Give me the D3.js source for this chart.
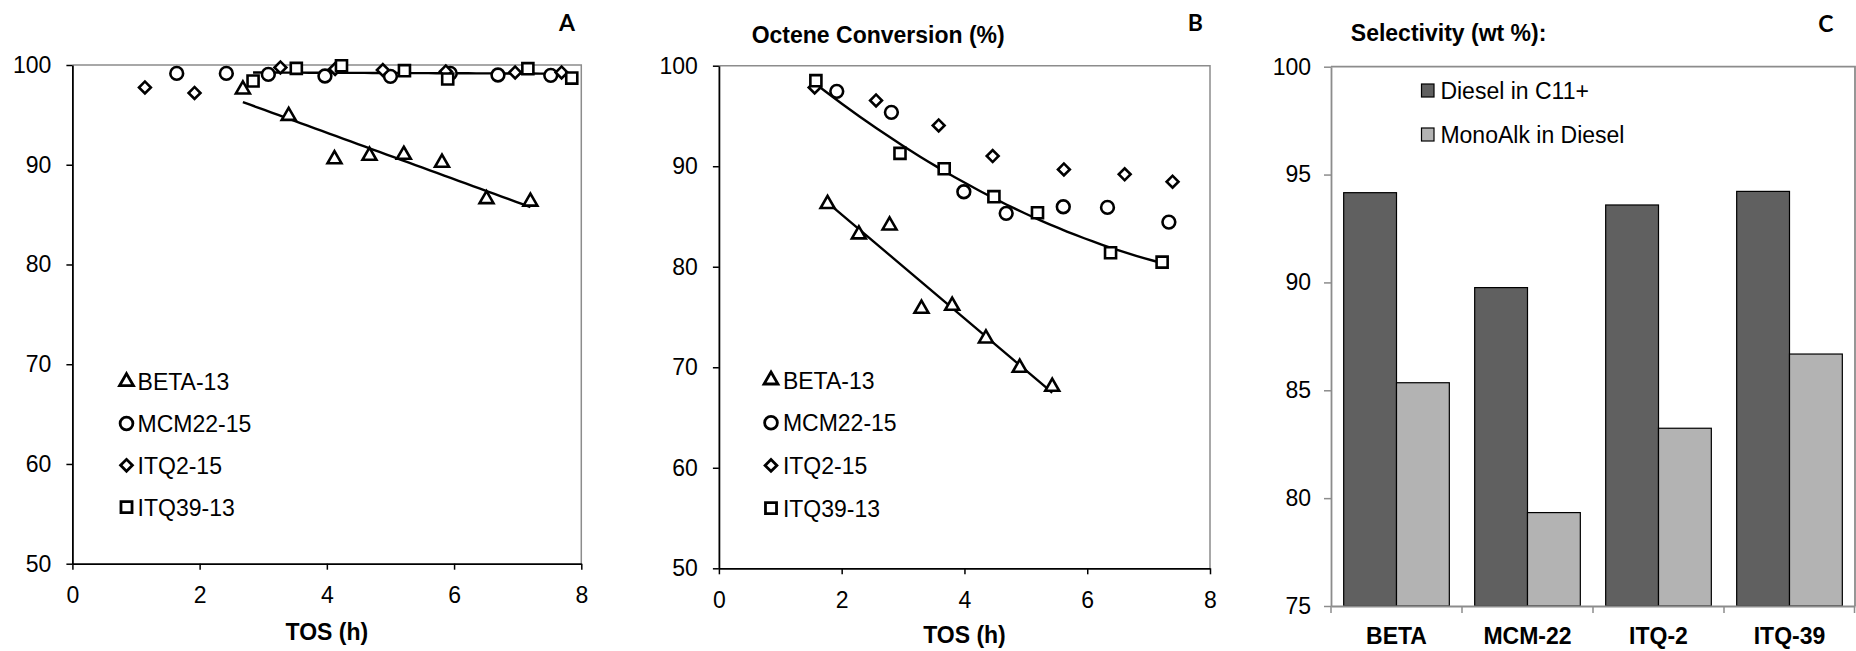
<!DOCTYPE html>
<html>
<head>
<meta charset="utf-8">
<script src="https://cdn.jsdelivr.net/npm/d3@7"></script>
<style>
  body { margin: 0; background: #fff; }
  svg text { font-family: "Liberation Sans", Arial, sans-serif; fill: #000; }
  .axis text { font-size: 23px; }
  .ttl { font-size: 23px; font-weight: bold; }
  .tag { font-family: Lato, "Open Sans", sans-serif; font-weight: 700; font-size: 23px; }
  .leg { font-size: 23px; }
</style>
</head>
<body>
<div id="chart"></div>
<script>
// values, [TOS (h), conversion %]
var tosTicks = [0, 2, 4, 6, 8];
var convTicks = [50, 60, 70, 80, 90, 100];

// panel A
var aBeta = [[2.68, 97.55], [3.40, 94.90], [4.12, 90.55], [4.67, 90.90], [5.21, 91.00], [5.81, 90.20], [6.51, 86.55], [7.20, 86.30]];
var aMcm22 = [[1.64, 99.16], [2.42, 99.16], [3.08, 99.06], [3.97, 98.90], [5.00, 98.86], [5.94, 99.16], [6.69, 99.00], [7.52, 98.96]];
var aItq2 = [[1.14, 97.75], [1.92, 97.20], [3.27, 99.76], [4.13, 99.60], [4.88, 99.50], [5.87, 99.36], [6.96, 99.26], [7.69, 99.26]];
var aItq39 = [[2.84, 98.40], [3.52, 99.66], [4.23, 99.93], [5.22, 99.43], [5.90, 98.60], [7.16, 99.63], [7.85, 98.69]];

// panel B - octene conversion
var bBeta = [[1.77, 86.24], [2.28, 83.22], [2.78, 84.11], [3.30, 75.82], [3.80, 76.12], [4.35, 72.87], [4.90, 69.95], [5.43, 68.06]];
var bMcm22 = [[1.92, 97.45], [2.81, 95.36], [3.99, 87.46], [4.68, 85.31], [5.61, 85.97], [6.33, 85.90], [7.33, 84.44]];
var bItq2 = [[1.56, 97.84], [2.56, 96.55], [3.58, 94.06], [4.46, 91.01], [5.62, 89.68], [6.61, 89.19], [7.39, 88.46]];
var bItq39 = [[1.58, 98.51], [2.95, 91.28], [3.67, 89.75], [4.48, 86.97], [5.19, 85.37], [6.38, 81.39], [7.22, 80.46]];

var seriesNames = ['BETA-13', 'MCM22-15', 'ITQ2-15', 'ITQ39-13'];

// panel C - selectivity (wt %)
var catalysts = ['BETA', 'MCM-22', 'ITQ-2', 'ITQ-39'];
var selKeys = ['Diesel in C11+', 'MonoAlk in Diesel'];
var dieselInC11 = [94.16, 89.76, 93.59, 94.22];
var monoAlkInDiesel = [85.35, 79.33, 83.24, 86.68];
var selTicks = [75, 80, 85, 90, 95, 100];

var W = 1856, H = 651;
var svg = d3.select('#chart').append('svg').attr('width', W).attr('height', H);

var grey = '#8c8c8c';

var markers = {
  tri: d3.symbol().type(d3.symbolTriangle).size(84)(),
  circ: d3.symbol().type(d3.symbolCircle).size(128)(),
  dia: d3.symbol().type(d3.symbolSquare).size(70)(),
  sq: d3.symbol().type(d3.symbolSquare).size(122)()
};
var shapeOrder = ['tri', 'circ', 'dia', 'sq'];

// least squares polynomial fit, returns coefficients c0..cn
function polyFit(pts, deg) {
  var n = deg + 1, A = [], b = [];
  for (var i = 0; i < n; i++) {
    A.push([]);
    for (var j = 0; j < n; j++) A[i].push(d3.sum(pts, function(p) { return Math.pow(p[0], i + j); }));
    b.push(d3.sum(pts, function(p) { return p[1] * Math.pow(p[0], i); }));
  }
  for (var k = 0; k < n; k++) {
    for (var r = k + 1; r < n; r++) {
      var f = A[r][k] / A[k][k];
      for (var c = k; c < n; c++) A[r][c] -= f * A[k][c];
      b[r] -= f * b[k];
    }
  }
  var x = new Array(n);
  for (var k2 = n - 1; k2 >= 0; k2--) {
    var s = b[k2];
    for (var c2 = k2 + 1; c2 < n; c2++) s -= A[k2][c2] * x[c2];
    x[k2] = s / A[k2][k2];
  }
  return x;
}

function drawScatter(opts) {
  var x = d3.scaleLinear().domain([0, 8]).range(opts.xr);
  var y = d3.scaleLinear().domain([50, 100]).range(opts.yr);
  var g = svg.append('g');

  // plot area frame (grey top/right)
  g.append('path')
    .attr('d', 'M' + opts.xr[0] + ',' + opts.yr[1] + 'H' + opts.xr[1] + 'V' + opts.yr[0])
    .attr('fill', 'none').attr('stroke', grey).attr('stroke-width', 1.5);

  var yAxis = g.append('g').attr('class', 'axis')
    .attr('transform', 'translate(' + opts.xr[0] + ',0)')
    .call(d3.axisLeft(y).tickValues(convTicks).tickSize(6).tickSizeOuter(0).tickPadding(15));
  var xAxis = g.append('g').attr('class', 'axis')
    .attr('transform', 'translate(0,' + opts.yr[0] + ')')
    .call(d3.axisBottom(x).tickValues(tosTicks).tickSize(6).tickSizeOuter(0).tickPadding(17));
  [yAxis, xAxis].forEach(function(a) {
    a.select('.domain').attr('stroke', '#000').attr('stroke-width', 1.8);
    a.selectAll('.tick line').attr('stroke', '#000').attr('stroke-width', 1.5);
    a.selectAll('text').attr('font-family', null).attr('font-size', null);
  });

  g.append('text').attr('class', 'ttl')
    .attr('x', (opts.xr[0] + opts.xr[1]) / 2).attr('y', opts.titleY)
    .attr('text-anchor', 'middle').text('TOS (h)');

  // trend lines
  opts.fits.forEach(function(fit) {
    var coef = polyFit(fit.pts, fit.deg);
    var x0 = d3.min(fit.pts, function(p) { return p[0]; });
    var x1 = d3.max(fit.pts, function(p) { return p[0]; });
    var xs = d3.range(41).map(function(i) { return x0 + (x1 - x0) * i / 40; });
    g.append('path')
      .datum(xs)
      .attr('fill', 'none').attr('stroke', '#000').attr('stroke-width', 2.4)
      .attr('d', d3.line()
        .x(function(d) { return x(d); })
        .y(function(d) { return y(d3.sum(coef, function(c, i) { return c * Math.pow(d, i); })); }));
  });

  opts.series.forEach(function(pts, si) {
    var shape = shapeOrder[si];
    g.append('g').selectAll('path').data(pts).enter().append('path')
      .attr('d', markers[shape])
      .attr('transform', function(d) {
        return 'translate(' + x(d[0]) + ',' + y(d[1]) + ')' + (shape === 'dia' ? ' rotate(45)' : '');
      })
      .attr('fill', '#fff').attr('stroke', '#000').attr('stroke-width', 2.6);
  });

  // legend
  var lg = g.append('g');
  seriesNames.forEach(function(name, i) {
    var cy = opts.legend.y0 + i * opts.legend.dy;
    var shape = shapeOrder[i];
    lg.append('path').attr('d', markers[shape])
      .attr('transform', 'translate(' + opts.legend.mx + ',' + cy + ')' + (shape === 'dia' ? ' rotate(45)' : ''))
      .attr('fill', '#fff').attr('stroke', '#000').attr('stroke-width', 2.8);
    lg.append('text').attr('class', 'leg')
      .attr('x', opts.legend.tx).attr('y', cy + 8.5).text(name);
  });

  svg.append('text').attr('class', 'tag')
    .attr('x', opts.tag[0]).attr('y', opts.tag[1]).attr('text-anchor', 'end').text(opts.tag[2]);
}

drawScatter({
  xr: [72.4, 581.3], yr: [563.7, 65],
  series: [aBeta, aMcm22, aItq2, aItq39],
  fits: [{ pts: aBeta, deg: 1 }, { pts: aItq39, deg: 1 }],
  legend: { mx: 126.5, tx: 137.6, y0: 381.7, dy: 41.8 },
  titleY: 640,
  tag: [575, 31, 'A']
});

drawScatter({
  xr: [718.9, 1210], yr: [568.3, 65.7],
  series: [bBeta, bMcm22, bItq2, bItq39],
  fits: [{ pts: bBeta, deg: 1 }, { pts: bItq39, deg: 2 }],
  legend: { mx: 771, tx: 782.9, y0: 380, dy: 42.7 },
  titleY: 642.5,
  tag: [1203, 31, 'B']
});

svg.append('text').attr('class', 'ttl').attr('x', 751.7).attr('y', 42.7).text('Octene Conversion (%)');

// panel C - grouped bars
(function() {
  var xr = [1331, 1855], yr = [606, 66.7];
  var x0 = d3.scaleBand().domain(catalysts).range(xr).padding(0);
  var x1 = d3.scaleBand().domain(selKeys).range([0, x0.bandwidth()]).paddingInner(0).paddingOuter(0.24);
  var y = d3.scaleLinear().domain([75, 100]).range(yr);
  var color = d3.scaleOrdinal().domain(selKeys).range(['#606060', '#b3b3b3']);
  var rows = catalysts.map(function(c, i) {
    return { cat: c, values: [dieselInC11[i], monoAlkInDiesel[i]] };
  });
  var g = svg.append('g');

  g.append('path')
    .attr('d', 'M' + xr[0] + ',' + yr[1] + 'H' + xr[1] + 'V' + yr[0])
    .attr('fill', 'none').attr('stroke', grey).attr('stroke-width', 1.8);

  g.selectAll('g.cat').data(rows).enter().append('g')
    .attr('transform', function(d) { return 'translate(' + x0(d.cat) + ',0)'; })
    .selectAll('rect').data(function(d) { return d.values.map(function(v, i) { return { key: selKeys[i], v: v }; }); })
    .enter().append('rect')
    .attr('x', function(d) { return x1(d.key); })
    .attr('y', function(d) { return y(d.v); })
    .attr('width', x1.bandwidth())
    .attr('height', function(d) { return y(75) - y(d.v); })
    .attr('fill', function(d) { return color(d.key); })
    .attr('stroke', '#000').attr('stroke-width', 1.2);

  var yAxis = g.append('g').attr('class', 'axis')
    .attr('transform', 'translate(' + xr[0] + ',0)')
    .call(d3.axisLeft(y).tickValues(selTicks).tickSize(7).tickSizeOuter(0).tickPadding(13));
  var xAxis = g.append('g').attr('class', 'axis')
    .attr('transform', 'translate(0,' + yr[0] + ')')
    .call(d3.axisBottom(x0).tickSize(0).tickPadding(22));
  [yAxis, xAxis].forEach(function(a) {
    a.select('.domain').attr('stroke', grey).attr('stroke-width', 1.8);
    a.selectAll('.tick line').attr('stroke', grey).attr('stroke-width', 1.5);
    a.selectAll('text').attr('font-family', null).attr('font-size', null);
  });
  xAxis.selectAll('text').attr('font-weight', 'bold');

  // category boundary ticks
  var edges = catalysts.map(function(c) { return x0(c); }).concat([xr[1] - 0.5]);
  g.selectAll('line.edge').data(edges).enter().append('line')
    .attr('x1', function(d) { return d; }).attr('x2', function(d) { return d; })
    .attr('y1', yr[0]).attr('y2', yr[0] + 7)
    .attr('stroke', grey).attr('stroke-width', 1.5);

  var lg = g.append('g');
  selKeys.forEach(function(k, i) {
    lg.append('rect').attr('x', 1421.5).attr('y', 84 + i * 44).attr('width', 12.5).attr('height', 13)
      .attr('fill', color(k)).attr('stroke', '#000').attr('stroke-width', 1.2);
    lg.append('text').attr('class', 'leg').attr('x', 1440.4).attr('y', 99 + i * 43.7).text(k);
  });

  svg.append('text').attr('class', 'ttl').attr('x', 1350.8).attr('y', 40.7).text('Selectivity (wt %):');
  svg.append('text').attr('class', 'tag').attr('x', 1833.5).attr('y', 32).attr('text-anchor', 'end').text('C');
})();
</script>
</body>
</html>
